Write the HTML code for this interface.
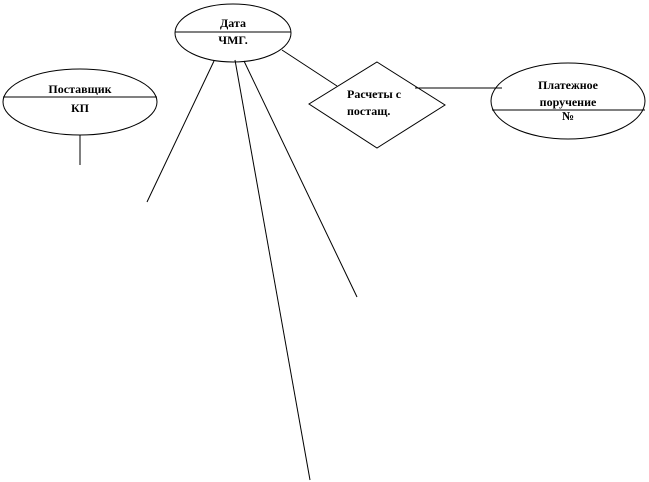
<!DOCTYPE html>
<html><head><meta charset="utf-8"><style>
html,body{margin:0;padding:0;background:#fff;}
svg{display:block;}
text{font-family:"Liberation Serif",serif;font-weight:bold;font-size:12px;fill:#000;}
</style></head><body>
<svg width="649" height="482" viewBox="0 0 649 482" xmlns="http://www.w3.org/2000/svg">
<g stroke="#000" stroke-width="1" fill="none">
<ellipse cx="233" cy="33" rx="58" ry="29"/>
<line x1="175" y1="32" x2="291" y2="32"/>
<ellipse cx="80" cy="102" rx="77" ry="33"/>
<line x1="3" y1="97" x2="157" y2="97"/>
<line x1="80" y1="135" x2="80" y2="165"/>
<polygon points="377,62 445,105 377,148 309,104"/>
<line x1="282" y1="50" x2="337" y2="86"/>
<line x1="415" y1="88" x2="502" y2="88"/>
<ellipse cx="568" cy="101" rx="77" ry="38"/>
<line x1="492" y1="110" x2="645" y2="110"/>
<line x1="214" y1="61" x2="147" y2="202"/>
<line x1="235" y1="60" x2="310" y2="480"/>
<line x1="244" y1="61" x2="357" y2="297"/>
</g>
<text x="233" y="27" text-anchor="middle">Дата</text>
<text x="233" y="44" text-anchor="middle">ЧМГ.</text>
<text x="80" y="93" text-anchor="middle">Поставщик</text>
<text x="80" y="112" text-anchor="middle">КП</text>
<text x="347" y="98">Расчеты с</text>
<text x="347" y="115">постащ.</text>
<text x="568" y="89" text-anchor="middle">Платежное</text>
<text x="568" y="106" text-anchor="middle">поручение</text>
<text x="568" y="120" text-anchor="middle">№</text>
</svg>
</body></html>
